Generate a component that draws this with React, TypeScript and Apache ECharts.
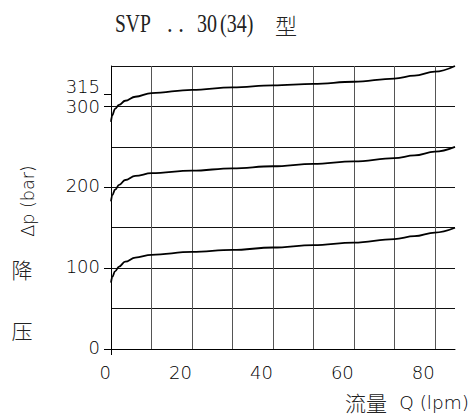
import React, { useEffect, useRef } from 'react';
import * as echarts from 'echarts';

const flow = [0, 0.3, 1, 2, 3.5, 6, 10, 20, 30, 40, 50, 60, 70, 75, 80, 85];
const p300 = [281, 289, 297, 302, 307, 312, 316.5, 320.5, 323.5, 326, 328, 330.5, 334.5, 338, 343, 350];
const p200 = [182.5, 190, 197, 203, 209, 214, 217.5, 220.5, 223.5, 226, 229, 232, 236, 239.5, 244, 250];
const p100 = [82, 89, 96, 102, 108, 113, 116.5, 120, 122.5, 125.5, 128.5, 131.5, 136, 139.5, 144, 150];
const xTickLabels = [0, 20, 40, 60, 80];
const yTickLabels = [0, 100, 200, 300];
const yExtraLabels = [315];

const SANS = "'DejaVu Sans', 'Liberation Sans', sans-serif";
const SERIF = "'Liberation Serif', 'Times New Roman', serif";
const CJK = "'Noto Sans CJK SC', sans-serif";

export default function App() {
  const ref = useRef<HTMLDivElement>(null);
  useEffect(() => {
    if (!ref.current) return;
    const chart = echarts.init(ref.current, null, { renderer: 'svg' });
    const mk = (vals: number[]) => flow.map((x, i) => [x, vals[i]]);
    const line = (name: string, vals: number[]) => ({
      name,
      type: 'line',
      xAxisIndex: 0,
      yAxisIndex: 0,
      data: mk(vals),
      smooth: 0.4,
      smoothMonotone: 'x',
      showSymbol: false,
      symbol: 'none',
      lineStyle: { color: '#000', width: 1.8 },
    });
    const labelStyle = { fontFamily: SANS, fontSize: 18, fontWeight: 200, color: '#000' };
    const labelAxis = (values: number[], fmt: (v: number) => string, rich: any, showLine: boolean) => ({
      type: 'value',
      position: 'left',
      min: 0,
      max: 350,
      interval: 50,
      axisLine: { show: showLine, onZero: false, lineStyle: { color: '#000', width: 1 } },
      axisTick: { show: true, customValues: values, length: 7, lineStyle: { color: '#000', width: 1 } },
      axisLabel: { ...labelStyle, customValues: values, margin: 11, hideOverlap: false, formatter: fmt, rich },
      splitLine: { show: false },
    });
    chart.setOption({
      animation: false,
      backgroundColor: '#fff',
      grid: { left: 111, right: 19, top: 66, bottom: 69, containLabel: false },
      xAxis: [
        {
          type: 'value',
          min: 0,
          max: 85,
          interval: 10,
          axisLine: { show: false },
          axisTick: { show: false },
          axisLabel: { show: false },
          splitLine: { show: true, showMinLine: false, showMaxLine: false, lineStyle: { color: '#555', width: 1 } },
        },
        {
          type: 'value',
          position: 'bottom',
          min: 0,
          max: 85,
          interval: 10,
          axisLine: { show: true, onZero: false, lineStyle: { color: '#000', width: 1 } },
          axisTick: { show: true, customValues: [0], length: 6, lineStyle: { color: '#000' } },
          axisLabel: { ...labelStyle, customValues: xTickLabels, align: 'right', margin: 14, hideOverlap: false },
          splitLine: { show: false },
        },
      ],
      yAxis: [
        {
          type: 'value',
          min: 0,
          max: 350,
          interval: 50,
          axisLine: { show: false },
          axisTick: { show: false },
          axisLabel: { show: false },
          splitLine: { show: true, showMinLine: false, lineStyle: { color: '#111', width: 1 } },
        },
        labelAxis(
          yTickLabels,
          (v: number) => (v === 300 ? '{c|300}' : '{a|' + v + '}'),
          {
            a: { ...labelStyle, padding: [0, 0, 3, 0] },
            c: { ...labelStyle, padding: [1, 0, 0, 0] },
          },
          true,
        ),
        labelAxis(
          yExtraLabels,
          (v: number) => '{b|' + v + '}',
          { b: { ...labelStyle, padding: [0, 0, 15, 0] } },
          false,
        ),
      ],
      graphic: [
        { type: 'text', x: 115, y: 24, scaleX: 0.78, style: { text: 'SVP', font: `25px ${SERIF}`, fill: '#222', verticalAlign: 'middle' } },
        { type: 'text', x: 167, y: 24, scaleX: 0.9, style: { text: '. .', font: `25px ${SERIF}`, fill: '#222', verticalAlign: 'middle' } },
        { type: 'text', x: 197, y: 24, scaleX: 0.8, style: { text: '30', font: `25px ${SERIF}`, fill: '#222', verticalAlign: 'middle' } },
        { type: 'text', x: 220, y: 24, scaleX: 0.8, style: { text: '(34)', font: `25px ${SERIF}`, fill: '#222', verticalAlign: 'middle' } },
        { type: 'text', x: 275, y: 24, style: { text: '型', font: `300 22px ${CJK}`, fill: '#222', verticalAlign: 'middle' } },
        { type: 'text', x: 22, y: 330, style: { text: '压', font: `300 21px ${CJK}`, fill: '#222', align: 'center', verticalAlign: 'middle' } },
        { type: 'text', x: 22, y: 269, style: { text: '降', font: `300 21px ${CJK}`, fill: '#222', align: 'center', verticalAlign: 'middle' } },
        { type: 'text', x: 28, y: 201, rotation: Math.PI / 2, style: { text: 'Δp (bar)', font: `200 17.5px ${SANS}`, fill: '#000', align: 'center', verticalAlign: 'middle' } },
        { type: 'text', x: 345, y: 402, style: { text: '流量', font: `300 21px ${CJK}`, fill: '#222', verticalAlign: 'middle' } },
        { type: 'text', x: 469, y: 402, style: { text: 'Q (lpm)', font: `200 18.5px ${SANS}`, fill: '#000', align: 'right', verticalAlign: 'middle' } },
      ],
      series: [line('p100', p100), line('p200', p200), line('p300', p300)],
    });
    return () => chart.dispose();
  }, []);
  return <div ref={ref} style={{ position: 'fixed', left: 0, top: 0, width: 474, height: 418 }} />;
}
